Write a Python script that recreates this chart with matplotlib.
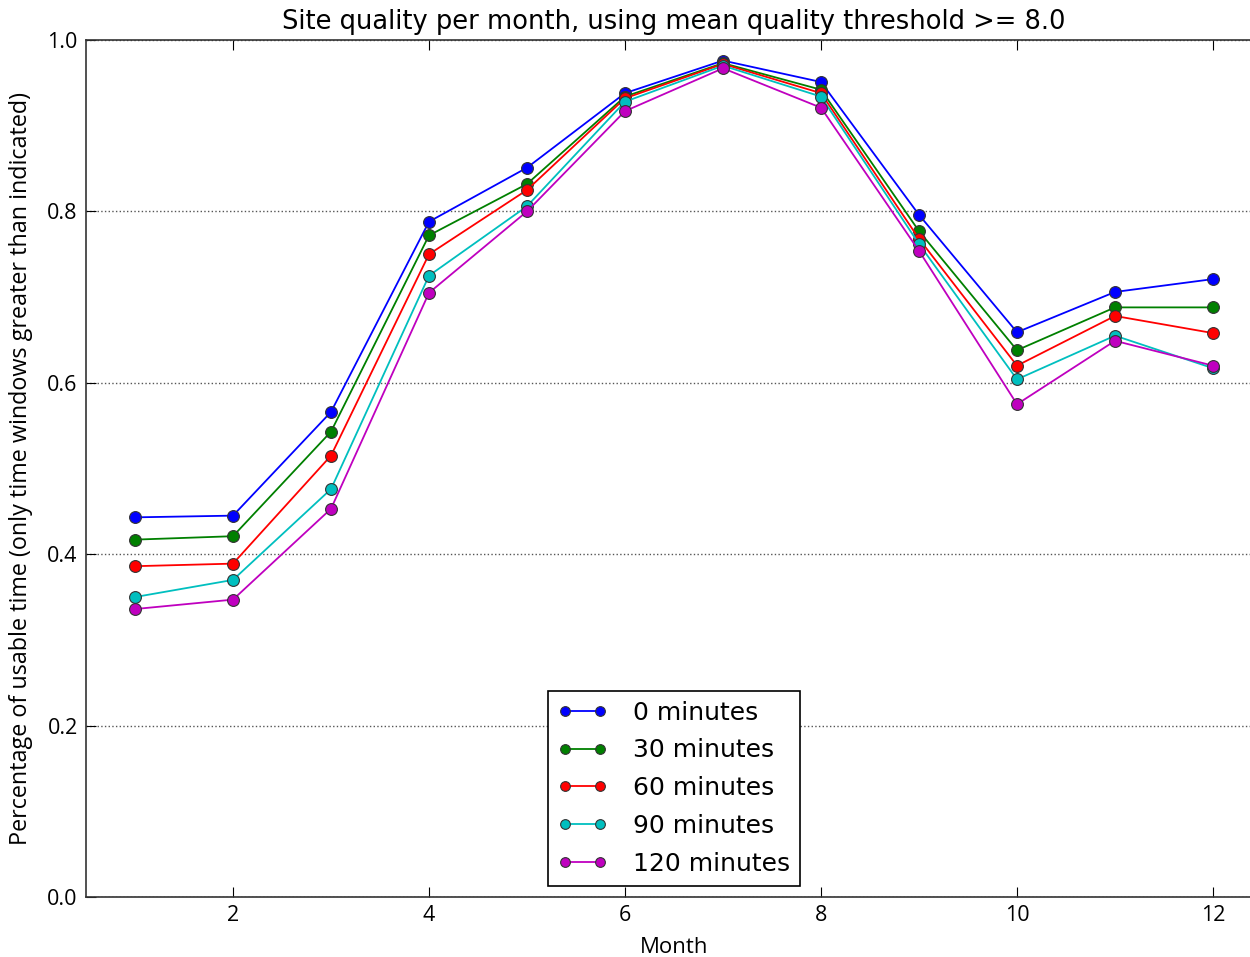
import numpy as np
import matplotlib.pyplot as plt

plt.rcParams['font.family'] = ['Open Sans', 'DejaVu Sans']

months = [1, 2, 3, 4, 5, 6, 7, 8, 9, 10, 11, 12]
labels = ['0 minutes', '30 minutes', '60 minutes', '90 minutes', '120 minutes']
colors = ['#0000ff', '#008000', '#ff0000', '#00bfbf', '#bf00bf']

q0 = [0.443, 0.445, 0.566, 0.788, 0.851, 0.938, 0.976, 0.951, 0.796, 0.659, 0.706, 0.721]
q30 = [0.417, 0.421, 0.543, 0.772, 0.832, 0.934, 0.973, 0.942, 0.777, 0.638, 0.688, 0.688]
q60 = [0.386, 0.389, 0.515, 0.750, 0.825, 0.932, 0.972, 0.938, 0.768, 0.620, 0.678, 0.658]
q90 = [0.350, 0.370, 0.476, 0.725, 0.806, 0.928, 0.970, 0.934, 0.762, 0.604, 0.655, 0.617]
q120 = [0.336, 0.347, 0.453, 0.705, 0.800, 0.917, 0.967, 0.921, 0.754, 0.575, 0.649, 0.620]
series = [q0, q30, q60, q90, q120]

fig = plt.figure(figsize=(12.5, 9.57), dpi=100)
ax = fig.add_axes([0.0688, 0.0627, 0.9408, 0.8955])

for vals, lab, col in zip(series, labels, colors):
    ax.plot(months, vals, '-o', color=col, label=lab, lw=1.3,
            markersize=8.5, markeredgecolor='#333333', markeredgewidth=0.8)

ax.set_xlim(0.5, 12.5)
ax.set_ylim(0.0, 1.0)
ax.set_xticks([2, 4, 6, 8, 10, 12])
ax.set_yticks([0.0, 0.2, 0.4, 0.6, 0.8, 1.0])
ax.set_yticklabels(['0.0', '0.2', '0.4', '0.6', '0.8', '1.0'])
ax.tick_params(direction='in', top=True, right=True, labelsize=15.5, length=7, pad=6)
ax.yaxis.grid(True, linestyle=':', color='#555555', lw=1)
for s in ax.spines.values():
    s.set_linewidth(1.2)
    s.set_color('#333333')

ax.set_title('Site quality per month, using mean quality threshold >= 8.0',
             fontsize=18.5, family='DejaVu Sans', pad=8)
ax.set_xlabel('Month', fontsize=16, labelpad=8)
ax.set_ylabel('Percentage of usable time (only time windows greater than indicated)',
              fontsize=16.8, labelpad=10)

leg = ax.legend(loc='lower center', numpoints=2, fancybox=False,
                prop={'family': 'DejaVu Sans', 'size': 18},
                framealpha=1, edgecolor='black', borderaxespad=0.45, handlelength=2.0,
                labelspacing=0.55, handletextpad=1.0)
leg.get_frame().set_linewidth(1.2)
for h in leg.legend_handles:
    h.set_markersize(7)

fig.savefig('out.png', dpi=100)
